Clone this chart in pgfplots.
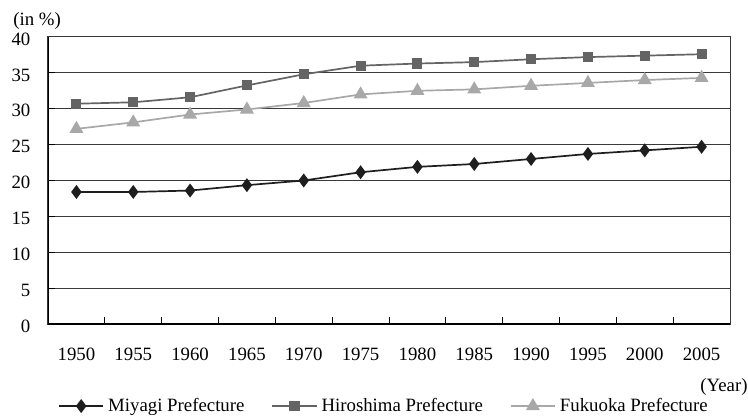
\documentclass[border=0pt]{standalone}
\usepackage{fontspec}
\setmainfont{Liberation Serif}
\usepackage{pgfplots}
\pgfplotsset{compat=1.18}
\definecolor{miy}{HTML}{1E1E1E}
\definecolor{hir}{HTML}{646464}
\definecolor{fuk}{HTML}{A8A8A8}
\definecolor{gridc}{HTML}{3A3A3A}
\begin{document}
\fontsize{9.4}{11}\selectfont
\begin{tikzpicture}
\begin{axis}[
  at={(0,0)}, anchor=south west,
  scale only axis, width=341pt, height=143.5pt,
  xmin=-0.5, xmax=11.5, ymin=0, ymax=40,
  xtick={0,...,11},
  xticklabels={1950,1955,1960,1965,1970,1975,1980,1985,1990,1995,2000,2005},
  major x tick style={draw=none},
  minor xtick={-0.5,0.5,...,11.5},
  ytick={0,5,...,40},
  xtick pos=bottom, ytick pos=left,
  tick align=inside,
  major tick length=3.5pt, minor tick length=3.5pt,
  tick style={black, line width=0.5pt},
  ymajorgrids,
  grid style={gridc, line width=0.5pt},
  axis line style={gridc, line width=0.5pt},
  /pgf/number format/assume math mode=true,
  ticklabel style={font=\fontsize{9.4}{11}\selectfont},
  yticklabel style={xshift=-5.5pt, yshift=-1pt},
  xticklabel style={yshift=-8.5pt},
  legend columns=3,
  legend style={draw=none, fill=none, at={(0.494,-0.286)}, anchor=center,
    font=\fontsize{9.4}{11}\selectfont,
    /tikz/every even column/.append style={column sep=11.5pt},
    /tikz/every odd column/.append style={column sep=0pt}},
  legend image code/.code={\draw[mark repeat=2,mark phase=2] plot coordinates {(0cm,0cm) (0.39cm,0cm) (0.78cm,0cm)};},
]
\addplot[miy, line width=0.85pt, mark=diamond*, mark size=2.8pt, mark options={fill=miy, solid}]
  coordinates {(0,18.4) (1,18.4) (2,18.6) (3,19.35) (4,20.0) (5,21.15) (6,21.9) (7,22.3) (8,23.0) (9,23.7) (10,24.2) (11,24.7)};
\addlegendentry{Miyagi Prefecture}
\addplot[hir, line width=0.85pt, mark=square*, mark size=2.1pt, mark options={fill=hir, solid}]
  coordinates {(0,30.7) (1,30.9) (2,31.6) (3,33.25) (4,34.8) (5,36.0) (6,36.3) (7,36.5) (8,36.9) (9,37.2) (10,37.4) (11,37.6)};
\addlegendentry{Hiroshima Prefecture}
\addplot[fuk, line width=0.85pt, mark=triangle*, mark size=3.2pt, mark options={fill=fuk, solid}]
  coordinates {(0,27.2) (1,28.1) (2,29.2) (3,29.9) (4,30.8) (5,32.0) (6,32.5) (7,32.7) (8,33.2) (9,33.6) (10,34.0) (11,34.3)};
\addlegendentry{Fukuoka Prefecture}
\draw[black, line width=1pt] (rel axis cs:0,1) -- (rel axis cs:0,0) -- (rel axis cs:1,0);
\end{axis}
\node[anchor=west, inner sep=0pt] at (-17.5pt,151.5pt) {(in \%)};
\node[anchor=east, inner sep=0pt] at (350pt,-31.5pt) {(Year)};
\pgfresetboundingbox
\path (-24pt,-46.5pt) rectangle (350pt,162pt);
\end{tikzpicture}
\end{document}
